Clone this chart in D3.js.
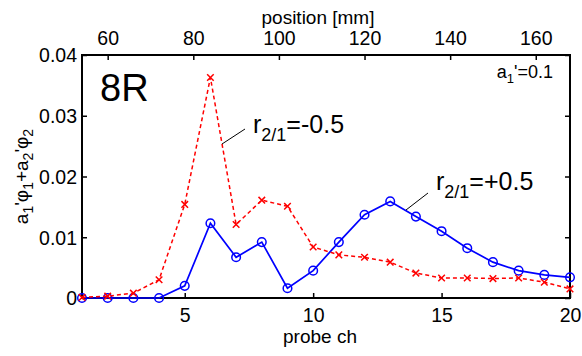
<!DOCTYPE html>
<html>
<head>
<meta charset="utf-8">
<style>
  body { margin: 0; background: #fff; }
  text { font-family: Arial, "Liberation Sans", sans-serif; fill: #000; }
  .dom { fill: none; stroke: #000; stroke-width: 2px; }
  .tick line { stroke: #000; stroke-width: 1.5px; }
</style>
</head>
<body>
<svg width="582" height="356"></svg>
<script src="https://cdn.jsdelivr.net/npm/d3@7"></script>
<script>
// probe channel numbers
var channels = [1,2,3,4,5,6,7,8,9,10,11,12,13,14,15,16,17,18,19,20];
// r2/1 = -0.5 (red dashed, x markers)
var seriesNeg = [0.0001,0.0003,0.0008,0.0030,0.0154,0.0363,0.0121,0.0161,0.0151,0.0084,
                 0.0071,0.0067,0.0059,0.0041,0.0033,0.0033,0.0032,0.0033,0.0026,0.0015];
// r2/1 = +0.5 (blue solid, circles)
var seriesPos = [0,0,0,0,0.0020,0.0123,0.0067,0.0092,0.0016,0.0045,
                 0.0092,0.0137,0.0159,0.0134,0.0110,0.0082,0.0059,0.0045,0.0038,0.0034];
var xTicks = [5,10,15,20];
var yTicks = [0,0.01,0.02,0.03,0.04];
var yTickLabels = ["0","0.01","0.02","0.03","0.04"];
var mmTicks = [60,80,100,120,140,160];

var svg = d3.select("svg"),
    margin = {top: 55, left: 82, bottom: 58, right: 12},
    width  = +svg.attr("width") - margin.left - margin.right,
    height = +svg.attr("height") - margin.top - margin.bottom;

var x = d3.scaleLinear().domain([1,20]).range([0,width]),
    xmm = d3.scaleLinear().domain([54,168]).range([0,width]),  // position = 6*ch + 48
    y = d3.scaleLinear().domain([0,0.04]).range([height,0]);

var g = svg.append("g").attr("transform","translate("+margin.left+","+margin.top+")");

// 轴 (ticks point inward, like matlab)
var tk = 5;
var gb = g.append("g").attr("transform","translate(0,"+height+")")
  .call(d3.axisBottom(x).tickValues(xTicks).tickSize(-tk).tickPadding(10));
var gt = g.append("g")
  .call(d3.axisTop(xmm).tickValues(mmTicks).tickSize(-tk).tickPadding(10));
var gl = g.append("g")
  .call(d3.axisLeft(y).tickValues(yTicks).tickSize(-tk).tickPadding(5)
        .tickFormat(function(d,i){ return yTickLabels[i]; }));
var gr = g.append("g").attr("transform","translate("+width+",0)")
  .call(d3.axisRight(y).tickValues(yTicks).tickSize(-tk).tickFormat(""));
[gb,gt,gl,gr].forEach(function(a){
  a.select(".domain").remove();
  a.selectAll("text").style("font-size","19.5px").style("font-family","Arial, 'Liberation Sans', sans-serif").attr("fill","#000");
});
gl.selectAll("text").attr("dy","0.35em");

g.append("rect").attr("class","dom").attr("width",width).attr("height",height);

// 数据线
var line = d3.line().x(function(d,i){ return x(channels[i]); }).y(function(d){ return y(d); });

g.append("path").datum(seriesPos).attr("d",line)
  .attr("fill","none").attr("stroke","#0000ff").attr("stroke-width",1.7);
g.selectAll(".circ").data(seriesPos).enter().append("circle")
  .attr("class","circ")
  .attr("cx",function(d,i){ return x(channels[i]); })
  .attr("cy",function(d){ return y(d); })
  .attr("r",4.3).attr("fill","none").attr("stroke","#0000ff").attr("stroke-width",1.5);

g.append("path").datum(seriesNeg).attr("d",line)
  .attr("fill","none").attr("stroke","#ff0000").attr("stroke-width",1.5)
  .attr("stroke-dasharray","4,3");
var cross = d3.symbol().type(d3.symbolX).size(30);
g.selectAll(".xm").data(seriesNeg).enter().append("path")
  .attr("class","xm").attr("d",cross)
  .attr("transform",function(d,i){ return "translate("+x(channels[i])+","+y(d)+")"; })
  .attr("fill","none").attr("stroke","#ff0000").attr("stroke-width",1.5);

// 坐标轴标题
svg.append("text").attr("x",margin.left+width/2-6).attr("y",343)
  .attr("text-anchor","middle").style("font-size","19px").text("probe ch");
svg.append("text").attr("x",margin.left+width/2-8).attr("y",24)
  .attr("text-anchor","middle").style("font-size","19px").text("position [mm]");

var yl = svg.append("text").attr("transform","translate(28,"+(margin.top+height/2)+") rotate(-90)")
  .attr("text-anchor","middle").style("font-size","19px");
yl.append("tspan").text("a");
yl.append("tspan").attr("dy",5).style("font-size","14px").text("1");
yl.append("tspan").attr("dy",-5).text("'φ");
yl.append("tspan").attr("dy",5).style("font-size","14px").text("1");
yl.append("tspan").attr("dy",-5).text("+a");
yl.append("tspan").attr("dy",5).style("font-size","14px").text("2");
yl.append("tspan").attr("dy",-5).text("'φ");
yl.append("tspan").attr("dy",5).style("font-size","14px").text("2");

// 标注
svg.append("text").attr("x",100).attr("y",101).style("font-size","38px").text("8R");

var a1 = svg.append("text").attr("x",553).attr("y",78).attr("text-anchor","end").style("font-size","18px");
a1.append("tspan").text("a");
a1.append("tspan").attr("dy",5).style("font-size","13px").text("1");
a1.append("tspan").attr("dy",-5).text("'=0.1");

function label(tx, ty, sign, lx1, ly1, lx2, ly2){
  svg.append("line").attr("x1",lx1).attr("y1",ly1).attr("x2",lx2).attr("y2",ly2)
    .attr("stroke","#000").attr("stroke-width",1);
  var t = svg.append("text").attr("x",tx).attr("y",ty).style("font-size","25px");
  t.append("tspan").text("r");
  t.append("tspan").attr("dy",8).style("font-size","18px").text("2/1");
  t.append("tspan").attr("dy",-8).text("="+sign+"0.5");
}
label(253, 133, "-", 222, 144, 245, 129);
label(436, 190, "+", 406, 210, 428, 193);
</script>
</body>
</html>
